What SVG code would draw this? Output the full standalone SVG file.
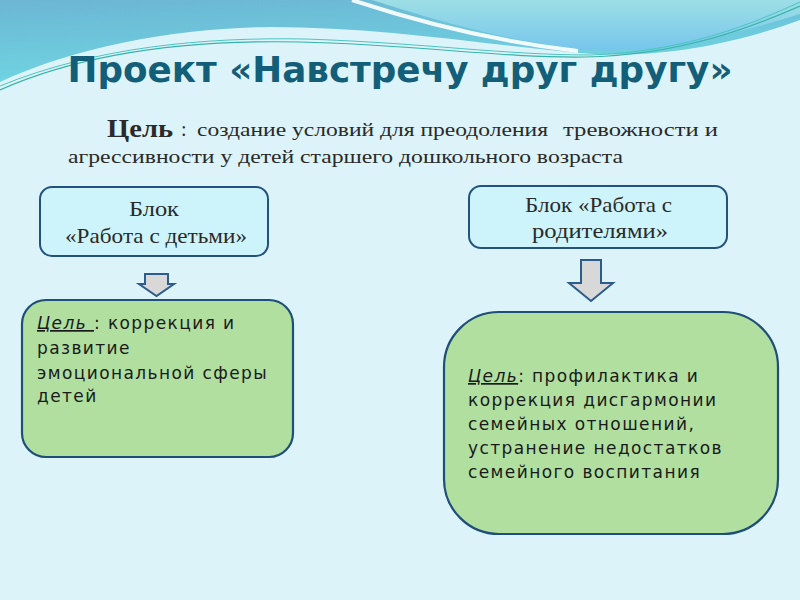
<svg xmlns="http://www.w3.org/2000/svg" width="800" height="600" viewBox="0 0 800 600">
<defs>
<linearGradient id="gTeal" x1="0" y1="0" x2="0.3" y2="1">
<stop offset="0" stop-color="#6cb6d4"/>
<stop offset="1" stop-color="#6fd6e2"/>
</linearGradient>
<linearGradient id="gRight" x1="0" y1="0" x2="0" y2="1">
<stop offset="0" stop-color="#9ddfe5"/>
<stop offset="1" stop-color="#76c5ec"/>
</linearGradient>
<style>
.serif{font-family:"Liberation Serif","DejaVu Serif",serif;fill:#2a2a2a;}
.sans{font-family:"DejaVu Sans","Noto Sans",sans-serif;fill:#1a1a1a;font-size:17px;letter-spacing:1.4px;}
.blk{fill:#cdf4fb;stroke:#24527f;stroke-width:2;}
.grn{fill:#b0dfa0;stroke:#1f4e79;stroke-width:2.2;}
.arr{fill:#d8d8d8;stroke:#2d5b8a;stroke-width:2;stroke-linejoin:miter;}
</style>
</defs>
<rect width="800" height="600" fill="#dcf4f9"/>
<path d="M0,0 H800 V20 C740,42 660,60 580,53 C480,44 380,27 270,27 C180,28 80,45 0,82 Z" fill="url(#gTeal)"/>
<path d="M372,0 C440,22 505,40 578,49 C650,56 730,36 800,14 V0 Z" fill="url(#gRight)"/>
<path d="M352,0 C425,24 500,42 578,51" fill="none" stroke="#ffffff" stroke-width="4" opacity="0.9"/>
<path d="M0,90 C90,50 200,40 300,42 C420,45 500,58 585,57 C680,55 750,28 800,6" fill="none" stroke="#39b3a8" stroke-width="1.2"/>
<path d="M0,86 C95,47 205,37 305,39 C425,43 505,55 590,55 C685,52 752,24 800,2" fill="none" stroke="#4cc4c4" stroke-width="1"/>

<text x="400" y="82" text-anchor="middle" textLength="665" lengthAdjust="spacingAndGlyphs" font-family="'DejaVu Sans','Liberation Sans',sans-serif" font-weight="bold" font-size="35" fill="#135e78">Проект «Навстречу друг другу»</text>

<g id="goal">
<text class="serif" x="107" y="137" font-size="25" font-weight="bold" fill="#111" textLength="66" lengthAdjust="spacingAndGlyphs">Цель</text>
<text class="serif" x="181" y="136" font-size="20">:</text>
<text class="serif" x="197" y="136" font-size="19" textLength="351" lengthAdjust="spacingAndGlyphs">создание условий для преодоления</text>
<text class="serif" x="563" y="136" font-size="19" textLength="155" lengthAdjust="spacingAndGlyphs">тревожности и</text>
<text class="serif" x="68" y="163" font-size="19" textLength="555" lengthAdjust="spacingAndGlyphs">агрессивности у детей старшего дошкольного возраста</text>
</g>

<g id="block-children">
<rect class="blk" x="40" y="187" width="228" height="69" rx="12"/>
<text class="serif" x="129" y="216" font-size="21" textLength="50" lengthAdjust="spacingAndGlyphs">Блок</text>
<text class="serif" x="65" y="243" font-size="21" textLength="182" lengthAdjust="spacingAndGlyphs">«Работа с детьми»</text>
</g>

<g id="block-parents">
<rect class="blk" x="469" y="186" width="258" height="62" rx="12"/>
<text class="serif" x="525" y="212" font-size="21" textLength="147" lengthAdjust="spacingAndGlyphs">Блок «Работа с</text>
<text class="serif" x="532" y="238" font-size="21" textLength="136" lengthAdjust="spacingAndGlyphs">родителями»</text>
</g>

<g id="connectors">
<path class="arr" d="M145,274 H168 V284 H174 L156.5,296 L139,284 H145 Z"/>
<path class="arr" d="M581,260 H601 V283 H613 L591,301 L569,283 H581 Z"/>
</g>

<g id="goal-children">
<rect class="grn" x="22" y="300" width="271" height="157" rx="24"/>
<text class="sans" x="37" y="329"><tspan font-style="italic" text-decoration="underline">Цель </tspan>: коррекция и</text>
<text class="sans" x="37" y="354">развитие</text>
<text class="sans" x="37" y="379">эмоциональной сферы</text>
<text class="sans" x="37" y="402">детей</text>
</g>

<g id="goal-parents">
<rect class="grn" x="444" y="312" width="334" height="222" rx="55"/>
<text class="sans" x="468" y="382"><tspan font-style="italic" text-decoration="underline">Цель</tspan>: профилактика и</text>
<text class="sans" x="468" y="406">коррекция дисгармонии</text>
<text class="sans" x="468" y="430">семейных отношений,</text>
<text class="sans" x="468" y="454">устранение недостатков</text>
<text class="sans" x="468" y="478">семейного воспитания</text>
</g>
</svg>
